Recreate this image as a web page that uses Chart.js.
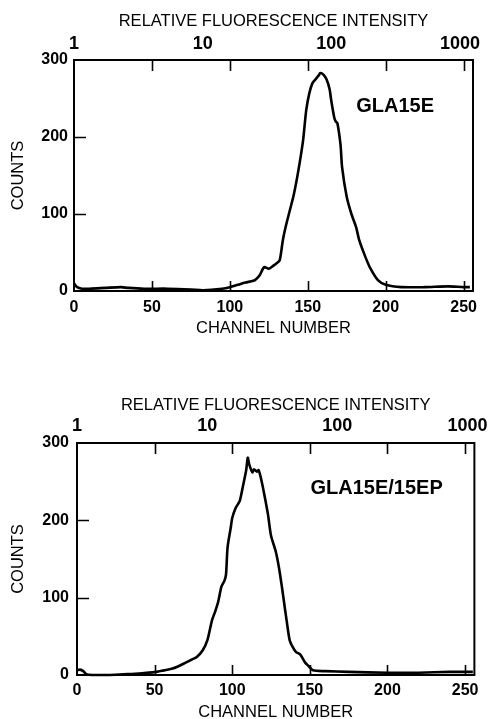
<!DOCTYPE html>
<html>
<head>
<meta charset="utf-8">
<script src="https://cdn.jsdelivr.net/npm/chart.js@4.4.1/dist/chart.umd.min.js"></script>
<style>
  html,body{margin:0;padding:0;background:#fff;width:494px;height:719px;overflow:hidden;}
  .wrap{position:absolute;left:0;}
</style>
</head>
<body>
<div class="wrap" style="top:0px"><canvas id="c1" width="494" height="360"></canvas></div>
<div class="wrap" style="top:370px"><canvas id="c2" width="494" height="349"></canvas></div>
<script>
// ---- data ----
const channelTicks = [0, 50, 100, 150, 200, 250];
const countTicks = [0, 100, 200, 300];
const intensityTicks = [1, 10, 100, 1000];

const channelsA = [0,2,5,10,20,30,35,45,60,75,83,95,100,105,110,116,119,122,125,128,130,132,134,136,138,141,144,147,149,151,153,155,157,158,160,162,164,165,167,168,169,171,172,175,178,181,183,187,190,195,200,210,225,240,250,254];
const countsA   = [10,5,3,3,4,5,4,3,3,2,1,3,5,8,11,14,20,31,29,33,36,40,66,85,101,125,157,196,235,257,270,275,280,283,281,275,262,248,225,220,218,190,161,122,100,83,66,44,30,14,8,5,5,6,5,5];

const channelsB = [0,2,4,6,10,20,30,40,51,56,61,65,70,74,77,81,84,87,89,91,93,95,96,97,99,100,102,104,105,107,109,110,111,113,114,116,117,119,121,123,125,128,130,132,134,135,137,139,141,144,147,149,152,160,175,200,220,240,255];
const countsB   = [6,7,5,1,0,0,1,2,4,6,8,11,16,20,23,32,45,71,82,95,114,122,130,165,190,203,215,222,226,245,265,281,272,262,266,263,265,250,230,208,180,160,140,114,85,71,45,36,30,26,16,12,6,5,4,3,3,4,4];

const seriesA = 'GLA15E';
const seriesB = 'GLA15E/15EP';

Chart.defaults.font.family = '"Liberation Sans", Arial, Helvetica, sans-serif';
Chart.defaults.color = '#000';

const framePlugin = {
  id: 'frame',
  afterDatasetsDraw(chart, args, opts) {
    const {ctx, chartArea: a, scales} = chart;
    const x = scales.x, y = scales.y;
    ctx.save();
    ctx.strokeStyle = '#000';
    ctx.lineWidth = 2;
    ctx.strokeRect(a.left, a.top, a.right - a.left, a.bottom - a.top);
    ctx.lineWidth = 1.6;
    ctx.beginPath();
    x.ticks.forEach(t => {
      if (t.value === 0) return;
      const px = Math.round(x.getPixelForValue(t.value)) + 0.5;
      ctx.moveTo(px, a.bottom); ctx.lineTo(px, a.bottom - opts.xLenB);
      ctx.moveTo(px, a.top); ctx.lineTo(px, a.top + opts.xLenT);
    });
    y.ticks.forEach(t => {
      if (t.value === 0 || t.value === 300) return;
      const py = Math.round(y.getPixelForValue(t.value)) + 0.5;
      ctx.moveTo(a.left, py); ctx.lineTo(a.left + opts.yLen, py);
    });
    ctx.stroke();
    // sample label
    ctx.fillStyle = '#000';
    ctx.font = 'bold 20px "Liberation Sans", Arial, sans-serif';
    ctx.textAlign = 'center';
    ctx.textBaseline = 'middle';
    ctx.fillText(opts.label, x.getPixelForValue(opts.lx), y.getPixelForValue(opts.ly));
    ctx.restore();
  }
};

function makeChart(id, chans, counts, label, g) {
  const pts = chans.map((c, i) => ({x: c, y: counts[i]}));
  return new Chart(document.getElementById(id), {
    type: 'line',
    data: { datasets: [{ data: pts, borderColor: '#000', borderWidth: 2.6, pointRadius: 0, tension: 0.25, fill: false, clip: false }] },
    plugins: [framePlugin],
    options: {
      responsive: false, animation: false, devicePixelRatio: 1,
      layout: { padding: { left: 0, right: g.padRight, top: 0, bottom: 0 } },
      plugins: {
        legend: { display: false }, tooltip: { enabled: false },
        frame: { xLenB: 10, xLenT: 11, yLen: 12, label: label, lx: g.lx, ly: g.ly }
      },
      scales: {
        x: {
          type: 'linear', position: 'bottom', min: 0, max: 256,
          afterBuildTicks: s => { s.ticks = channelTicks.map(v => ({value: v})); },
          afterFit: s => { s.height = g.bottomH; },
          grid: { display: false, drawTicks: false }, border: { display: false },
          ticks: { autoSkip: false, maxRotation: 0, padding: g.xPad, font: { size: 16, weight: 'bold' }, color: '#000' },
          title: { display: true, text: 'CHANNEL NUMBER', font: { size: 16.5 }, color: '#000', padding: { top: 0, bottom: g.xTitlePad } }
        },
        top: {
          type: 'logarithmic', position: 'top', min: 1, max: g.logMax,
          afterBuildTicks: s => { s.ticks = intensityTicks.map(v => ({value: v})); },
          afterFit: s => { s.height = g.topH; },
          grid: { display: false, drawTicks: false }, border: { display: false },
          ticks: { autoSkip: false, maxRotation: 0, padding: g.topPad, font: { size: 18, weight: 'bold' }, color: '#000',
                   callback: v => String(v) },
          title: { display: true, text: 'RELATIVE FLUORESCENCE INTENSITY', font: { size: 16.5 }, color: '#000', padding: { top: g.topTitlePad, bottom: 0 } }
        },
        y: {
          type: 'linear', position: 'left', min: 0, max: 300,
          afterBuildTicks: s => { s.ticks = countTicks.map(v => ({value: v})); },
          afterFit: s => { s.width = g.leftW; },
          grid: { display: false, drawTicks: false }, border: { display: false },
          ticks: { autoSkip: false, padding: g.yPad, font: { size: 16, weight: 'bold' }, color: '#000' },
          title: { display: true, text: 'COUNTS', font: { size: 16.5 }, color: '#000', padding: { top: 9, bottom: 0 } }
        }
      }
    }
  });
}

makeChart('c1', channelsA, countsA, seriesA, {
  padRight: 21, leftW: 74, topH: 60, bottomH: 69,
  xPad: 7.4, xTitlePad: 22.1, topPad: 5.2, topTitlePad: 11.1, yPad: 6,
  logMax: 1262, lx: 206, ly: 240
});
makeChart('c2', channelsB, countsB, seriesB, {
  padRight: 17, leftW: 77, topH: 73, bottomH: 44,
  xPad: 6.4, xTitlePad: -2.9, topPad: 6.2, topTitlePad: 25.1, yPad: 8,
  logMax: 1130, lx: 193, ly: 241
});
</script>
</body>
</html>
